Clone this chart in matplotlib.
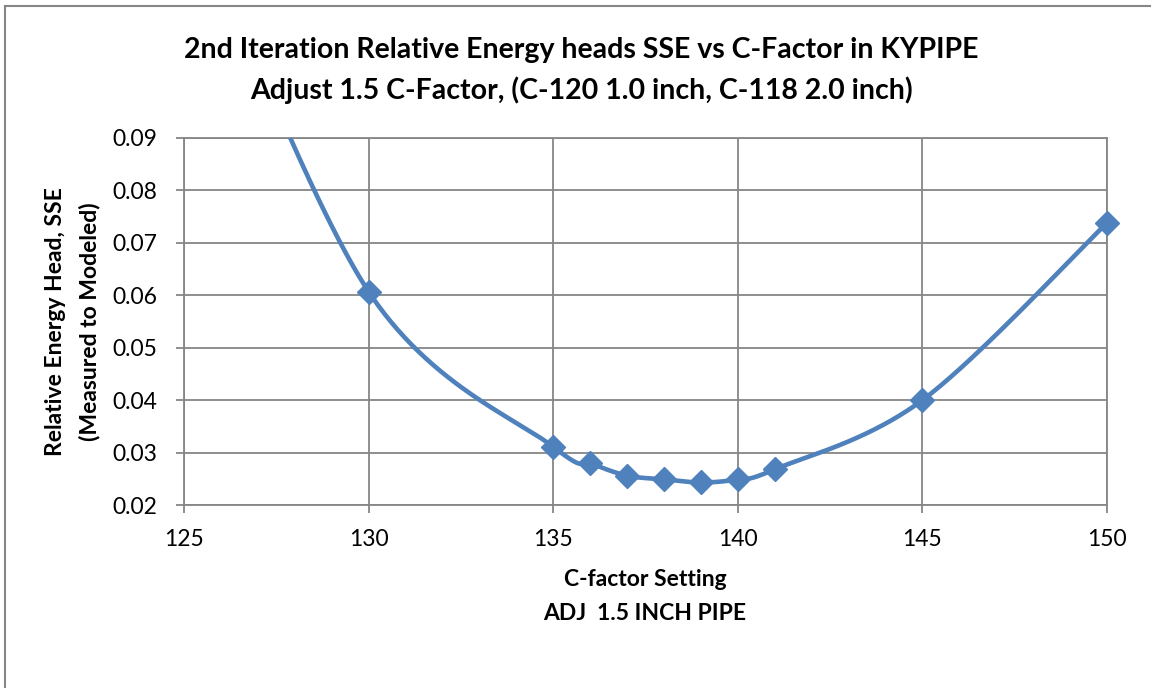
import numpy as np
import matplotlib
matplotlib.use("Agg")
import matplotlib.pyplot as plt
from matplotlib.patches import Rectangle

c_factor = [125, 130, 135, 136, 137, 138, 139, 140, 141, 145, 150]
sse = [0.138, 0.0607, 0.0311, 0.0280, 0.0256, 0.0249, 0.0243, 0.0249, 0.0268, 0.0400, 0.0738]
x_ticks = [125, 130, 135, 140, 145, 150]
y_ticks = [0.02, 0.03, 0.04, 0.05, 0.06, 0.07, 0.08, 0.09]
title_lines = ["2nd Iteration Relative Energy heads SSE vs C-Factor in KYPIPE",
               "Adjust 1.5 C-Factor, (C-120 1.0 inch, C-118 2.0 inch)"]
xlabel_lines = ["C-factor Setting", "ADJ  1.5 INCH PIPE"]
ylabel_lines = ["Relative Energy Head, SSE", "(Measured to Modeled)"]

plt.rcParams['font.family'] = ['Lato', 'DejaVu Sans']

def excel_smooth(xs, ys, n=60):
    P = np.column_stack([xs, ys]).astype(float)
    out = []
    m = len(P)
    for i in range(m - 1):
        p0 = P[i]
        p1 = P[i + 1]
        pm = P[i - 1] if i > 0 else P[i]
        pp = P[i + 2] if i + 2 < m else P[i + 1]
        c1 = p0 + (p1 - pm) / 6.0
        c2 = p1 - (pp - p0) / 6.0
        t = np.linspace(0, 1, n)[:, None]
        seg = ((1 - t) ** 3) * p0 + 3 * ((1 - t) ** 2) * t * c1 + 3 * (1 - t) * t ** 2 * c2 + t ** 3 * p1
        out.append(seg if i == 0 else seg[1:])
    arr = np.vstack(out)
    return arr[:, 0], arr[:, 1]

W, H = 1151, 688
fig = plt.figure(figsize=(W / 100, H / 100), dpi=100)
fig.patches.append(Rectangle((5 / W, -0.1), 1.2, 1 - 6 / H + 0.1, transform=fig.transFigure,
                             fill=False, edgecolor='#868686', linewidth=1.5))

ax = fig.add_axes([184 / W, 1 - 505 / H, (1107 - 184) / W, (505 - 138) / H])
ax.set_xlim(125, 150)
ax.set_ylim(0.02, 0.09)

sx, sy = excel_smooth(c_factor, sse)
ax.plot(sx, sy, color='#4F81BD', linewidth=3.3, solid_capstyle='round', zorder=3)
ax.plot(c_factor, sse, linestyle='none', marker='D', markersize=12.5,
        color='#4F81BD', zorder=4, clip_on=False)

ax.set_xticks(x_ticks)
ax.set_yticks(y_ticks)
ax.set_xticklabels([str(v) for v in x_ticks])
ax.set_yticklabels([f"{v:.2f}" for v in y_ticks])
ax.grid(True, color='#868686', linewidth=1.3)
ax.set_axisbelow(True)
for s in ax.spines.values():
    s.set_color('#868686')
    s.set_linewidth(1.3)
ax.tick_params(axis='both', which='both', color='#868686', width=1.3, length=6,
               labelsize=16.5, labelcolor='black')
ax.tick_params(axis='x', pad=11)
ax.tick_params(axis='y', pad=13)

fig.text(581 / W, 1 - 50 / H, title_lines[0], ha='center', va='center',
         fontsize=20.5, fontweight='bold')
fig.text(581 / W, 1 - 90 / H, title_lines[1], ha='center', va='center',
         fontsize=20.5, fontweight='bold')
fig.text(645 / W, 1 - 580 / H, xlabel_lines[0], ha='center', va='center',
         fontsize=16.5, fontweight='bold')
fig.text(645 / W, 1 - 613 / H, xlabel_lines[1], ha='center', va='center',
         fontsize=16.5, fontweight='bold')
fig.text(56 / W, 1 - 322 / H, ylabel_lines[0], ha='center', va='center',
         rotation=90, fontsize=16.5, fontweight='bold')
fig.text(89 / W, 1 - 322 / H, ylabel_lines[1], ha='center', va='center',
         rotation=90, fontsize=16.5, fontweight='bold')

fig.savefig("out.png", dpi=100)
